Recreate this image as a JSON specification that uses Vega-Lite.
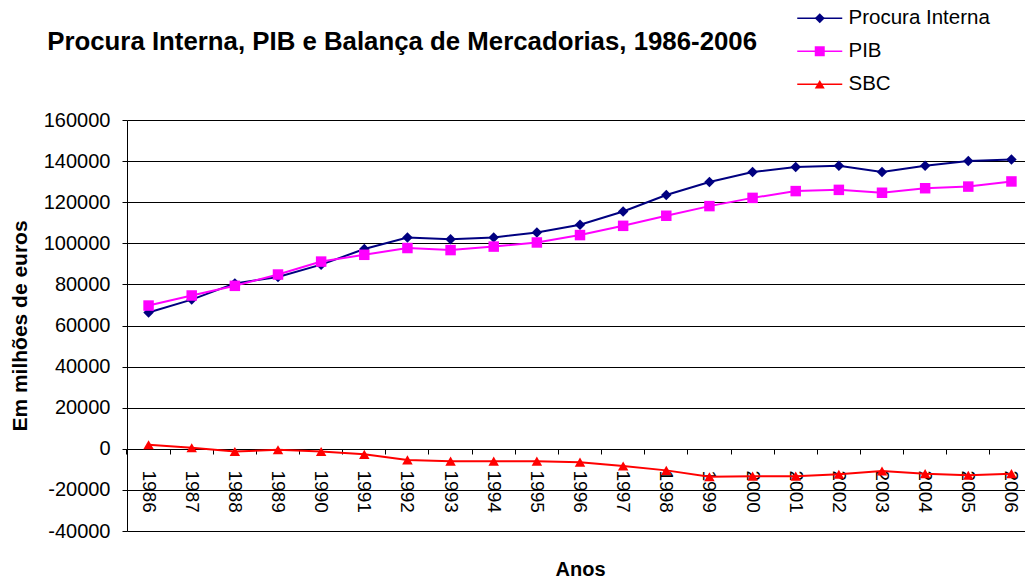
{
"$schema": "https://vega.github.io/schema/vega-lite/v6.json",
"width": 898,
"height": 411,
"autosize": "none",
"padding": {"left": 127, "top": 120, "right": 0, "bottom": 50},
"background": "white",
"config": {"font": "Liberation Sans", "view": {"stroke": null}},
"title": {"text": "Procura Interna, PIB e Balança de Mercadorias, 1986-2006", "anchor": "start", "fontSize": 25.8, "fontWeight": "bold", "font": "Liberation Sans", "color": "black", "dx": 38, "dy": 58, "offset": 10},
"data": {"values": [
{"year": "1986", "serie": "Procura Interna", "value": 66300},
{"year": "1987", "serie": "Procura Interna", "value": 72600},
{"year": "1988", "serie": "Procura Interna", "value": 80500},
{"year": "1989", "serie": "Procura Interna", "value": 83600},
{"year": "1990", "serie": "Procura Interna", "value": 89600},
{"year": "1991", "serie": "Procura Interna", "value": 97200},
{"year": "1992", "serie": "Procura Interna", "value": 102800},
{"year": "1993", "serie": "Procura Interna", "value": 102000},
{"year": "1994", "serie": "Procura Interna", "value": 102800},
{"year": "1995", "serie": "Procura Interna", "value": 105300},
{"year": "1996", "serie": "Procura Interna", "value": 109000},
{"year": "1997", "serie": "Procura Interna", "value": 115500},
{"year": "1998", "serie": "Procura Interna", "value": 123500},
{"year": "1999", "serie": "Procura Interna", "value": 129800},
{"year": "2000", "serie": "Procura Interna", "value": 134700},
{"year": "2001", "serie": "Procura Interna", "value": 137100},
{"year": "2002", "serie": "Procura Interna", "value": 137700},
{"year": "2003", "serie": "Procura Interna", "value": 134700},
{"year": "2004", "serie": "Procura Interna", "value": 137700},
{"year": "2005", "serie": "Procura Interna", "value": 140100},
{"year": "2006", "serie": "Procura Interna", "value": 140800},
{"year": "1986", "serie": "PIB", "value": 69700},
{"year": "1987", "serie": "PIB", "value": 74600},
{"year": "1988", "serie": "PIB", "value": 79300},
{"year": "1989", "serie": "PIB", "value": 84800},
{"year": "1990", "serie": "PIB", "value": 91100},
{"year": "1991", "serie": "PIB", "value": 94400},
{"year": "1992", "serie": "PIB", "value": 97700},
{"year": "1993", "serie": "PIB", "value": 96700},
{"year": "1994", "serie": "PIB", "value": 98400},
{"year": "1995", "serie": "PIB", "value": 100400},
{"year": "1996", "serie": "PIB", "value": 104000},
{"year": "1997", "serie": "PIB", "value": 108500},
{"year": "1998", "serie": "PIB", "value": 113400},
{"year": "1999", "serie": "PIB", "value": 118100},
{"year": "2000", "serie": "PIB", "value": 122100},
{"year": "2001", "serie": "PIB", "value": 125400},
{"year": "2002", "serie": "PIB", "value": 126000},
{"year": "2003", "serie": "PIB", "value": 124600},
{"year": "2004", "serie": "PIB", "value": 126800},
{"year": "2005", "serie": "PIB", "value": 127600},
{"year": "2006", "serie": "PIB", "value": 130100},
{"year": "1986", "serie": "SBC", "value": 2000},
{"year": "1987", "serie": "SBC", "value": 500},
{"year": "1988", "serie": "SBC", "value": -1300},
{"year": "1989", "serie": "SBC", "value": -500},
{"year": "1990", "serie": "SBC", "value": -1300},
{"year": "1991", "serie": "SBC", "value": -2700},
{"year": "1992", "serie": "SBC", "value": -5400},
{"year": "1993", "serie": "SBC", "value": -6000},
{"year": "1994", "serie": "SBC", "value": -6000},
{"year": "1995", "serie": "SBC", "value": -6000},
{"year": "1996", "serie": "SBC", "value": -6500},
{"year": "1997", "serie": "SBC", "value": -8400},
{"year": "1998", "serie": "SBC", "value": -10500},
{"year": "1999", "serie": "SBC", "value": -13600},
{"year": "2000", "serie": "SBC", "value": -13300},
{"year": "2001", "serie": "SBC", "value": -13300},
{"year": "2002", "serie": "SBC", "value": -12400},
{"year": "2003", "serie": "SBC", "value": -10800},
{"year": "2004", "serie": "SBC", "value": -12100},
{"year": "2005", "serie": "SBC", "value": -12900},
{"year": "2006", "serie": "SBC", "value": -12100}
]},
"encoding": {
  "y": {"field": "value", "type": "quantitative",
    "scale": {"domain": [-40000, 160000], "nice": false, "zero": false},
    "axis": {"values": [-40000, -20000, 0, 20000, 40000, 60000, 80000, 100000, 120000, 140000, 160000],
      "labelExpr": "'' + datum.value",
      "grid": true, "gridColor": "black", "gridOpacity": 1, "gridWidth": 1,
      "domainColor": "black", "domainWidth": 1, "tickColor": "black", "tickSize": 5,
      "labelFontSize": 20, "labelColor": "black", "labelPadding": 12, "labelFont": "Liberation Sans",
      "title": "Em milhões de euros", "titleFontSize": 21, "titleFontWeight": "bold", "titleColor": "black", "titlePadding": 13, "titleFont": "Liberation Sans"}}
},
"layer": [
  {
    "mark": {"type": "line", "strokeWidth": 2},
    "encoding": {
      "x": {"field": "year", "type": "ordinal", "bandPosition": 0.5,
        "scale": {"type": "band", "paddingInner": 0, "paddingOuter": 0, "range": [0, 906]},
        "axis": {"orient": "bottom", "offset": -82, "labelAngle": 90, "labelAlign": "left", "labelBaseline": "middle",
          "labelFontSize": 19, "labelColor": "black", "labelPadding": 21, "labelFont": "Liberation Sans", "ticks": false, "domain": true, "domainColor": "black", "grid": false,
          "title": "Anos", "titleFontSize": 20, "titleFontWeight": "bold", "titleColor": "black", "titleFont": "Liberation Sans", "titleY": 110, "titleBaseline": "top"}},
      "color": {"field": "serie", "type": "nominal",
        "scale": {"domain": ["Procura Interna", "PIB", "SBC"], "range": ["#000080", "#FF00FF", "#FF0000"]},
        "legend": {"orient": "none", "legendX": 682.5, "legendY": -112, "title": null, "symbolType": "M-4.5,0H4.5", "symbolSize": 100, "symbolStrokeWidth": 1.5, "labelFontSize": 20.5, "labelColor": "black", "labelFont": "Liberation Sans", "labelOffset": 18.5, "rowPadding": 12, "padding": 0}}
    }
  },
  {
    "mark": {"type": "point", "filled": true, "size": 110, "opacity": 1},
    "encoding": {
      "x": {"field": "year", "type": "ordinal", "bandPosition": 0.5,
        "scale": {"type": "band", "paddingInner": 0, "paddingOuter": 0, "range": [0, 906]},
        "axis": {"orient": "bottom", "offset": -82, "labels": false, "ticks": true, "tickSize": 5, "tickColor": "black", "bandPosition": 0, "domain": false, "grid": false, "title": null}},
      "color": {"field": "serie", "type": "nominal",
        "scale": {"domain": ["Procura Interna", "PIB", "SBC"], "range": ["#000080", "#FF00FF", "#FF0000"]},
        "legend": {"orient": "none", "legendX": 682.5, "legendY": -112, "title": null, "symbolSize": 100, "labelFontSize": 20.5, "labelOpacity": 0, "labelOffset": 18.5, "rowPadding": 12, "padding": 0}},
      "shape": {"field": "serie", "type": "nominal",
        "scale": {"domain": ["Procura Interna", "PIB", "SBC"], "range": ["diamond", "square", "triangle-up"]},
        "legend": {"orient": "none", "legendX": 682.5, "legendY": -112, "title": null, "symbolSize": 100, "labelFontSize": 20.5, "labelOpacity": 0, "labelOffset": 18.5, "rowPadding": 12, "padding": 0}}
    }
  }
],
"resolve": {"axis": {"x": "independent"}, "legend": {"color": "independent", "shape": "independent"}}
}
